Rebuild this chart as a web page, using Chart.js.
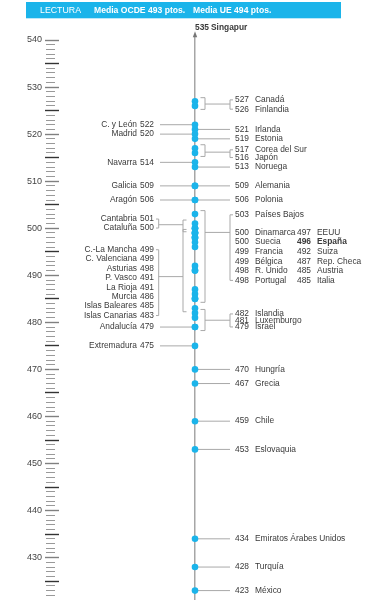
<!DOCTYPE html>
<html>
<head>
<meta charset="utf-8">
<script src="https://cdn.jsdelivr.net/npm/chart.js@4.4.1/dist/chart.umd.min.js"></script>
<style>
  html, body { margin: 0; padding: 0; background: #fff; }
  canvas { display: block; }
</style>
</head>
<body>
<canvas id="lecturaChart" width="376" height="600"></canvas>
<script>
// PISA lectura: países (derecha) y comunidades autónomas (izquierda)
const headerTexts = ['LECTURA', 'Media OCDE 493 ptos.', 'Media UE 494 ptos.'];

const countryNames = ['Singapur', 'Canadá', 'Finlandia', 'Irlanda', 'Estonia', 'Corea del Sur', 'Japón',
  'Noruega', 'Alemania', 'Polonia', 'Países Bajos', 'Dinamarca', 'Suecia', 'Francia', 'Bélgica',
  'R. Unido', 'Portugal', 'EEUU', 'España', 'Suiza', 'Rep. Checa', 'Austria', 'Italia', 'Islandia',
  'Luxemburgo', 'Israel', 'Hungría', 'Grecia', 'Chile', 'Eslovaquia', 'Emiratos Árabes Unidos',
  'Turquía', 'México'];
const countryScores = [535, 527, 526, 521, 519, 517, 516, 513, 509, 506, 503, 500, 500, 499, 499,
  498, 498, 497, 496, 492, 487, 485, 485, 482, 481, 479, 470, 467, 459, 453, 434, 428, 423];

const regionNames = ['C. y León', 'Madrid', 'Navarra', 'Galicia', 'Aragón', 'Cantabria', 'Cataluña',
  'C.-La Mancha', 'C. Valenciana', 'Asturias', 'P. Vasco', 'La Rioja', 'Murcia', 'Islas Baleares',
  'Islas Canarias', 'Andalucía', 'Extremadura'];
const regionScores = [522, 520, 514, 509, 506, 501, 500, 499, 499, 498, 491, 491, 486, 485, 483, 479, 475];

const axisLabels = [540, 530, 520, 510, 500, 490, 480, 470, 460, 450, 440, 430];
const offScaleCountry = 'Singapur';
const boldCountry = 'España';

const scoreMin = 421;
const scoreMax = 541;

// labels that share a bracket (layout only)
const rightGroups = [
  { names: ['Canadá', 'Finlandia'], shift: -1.3, step: 9.3 },
  { names: ['Corea del Sur', 'Japón'], shift: 1.6, step: 7.7 },
  { names: ['Países Bajos', 'Dinamarca', 'Suecia', 'Francia', 'Bélgica', 'R. Unido', 'Portugal'],
    second: ['EEUU', 'España', 'Suiza', 'Rep. Checa', 'Austria', 'Italia'],
    shift: 0.7, step: 9.6, gap: 8, connectRow: 1 },
  { names: ['Islandia', 'Luxemburgo', 'Israel'], shift: 1, step: 6.5 }
];
const leftGroups = [
  { names: ['Cantabria', 'Cataluña'], shift: -4.5, step: 9 },
  { names: ['C.-La Mancha', 'C. Valenciana', 'Asturias', 'P. Vasco', 'La Rioja', 'Murcia',
    'Islas Baleares', 'Islas Canarias'], shift: 16.8, step: 9.4 }
];

const blue = '#1bb4ea';
const lineGray = '#a9a9a9';
const textColor = '#3a3a3a';
const fontFamily = '"Liberation Sans", Arial, Helvetica, sans-serif';

const dotPoints = [];
countryNames.forEach((n, i) => {
  if (n !== offScaleCountry) dotPoints.push({ x: 0, y: countryScores[i] });
});
regionScores.forEach(v => dotPoints.push({ x: 0, y: v }));

function scoreOf(names, scores, name) {
  return scores[names.indexOf(name)];
}

// works out text rows, brackets and single connectors for one side
function layoutSide(names, scores, groups, yScale) {
  const grouped = new Set();
  const rows = [], brackets = [], singles = [];
  groups.forEach(g => {
    const first = yScale.getPixelForValue(scoreOf(names, scores, g.names[0]));
    const rowY = k => first + g.shift + k * g.step + (k > 0 ? (g.gap || 0) : 0);
    g.names.forEach((n, k) => {
      rows.push({ name: n, score: scoreOf(names, scores, n), ty: rowY(k), col: 0 });
      grouped.add(n);
    });
    (g.second || []).forEach((n, k) => {
      rows.push({ name: n, score: scoreOf(names, scores, n), ty: rowY(k + 1), col: 1 });
      grouped.add(n);
    });
    const dys = g.names.concat(g.second || []).map(n => yScale.getPixelForValue(scoreOf(names, scores, n)));
    const dotTop = Math.min(...dys) - 3.5;
    const dotBot = Math.max(...dys) + 3.5;
    const textTop = rowY(0);
    const textBot = rowY(g.names.length - 1);
    const connY = g.connectRow != null ? rowY(g.connectRow)
      : ((dotTop + dotBot) / 2 + (textTop + textBot) / 2) / 2;
    brackets.push({ dotTop, dotBot, textTop, textBot, connY });
  });
  names.forEach((n, i) => {
    if (grouped.has(n) || n === offScaleCountry) return;
    const dy = yScale.getPixelForValue(scores[i]);
    rows.push({ name: n, score: scores[i], ty: dy, col: 0 });
    singles.push(dy);
  });
  return { rows, brackets, singles };
}

const sideGeom = {
  right: { line: 35, dotIn: 5.5, dotOut: 10, txtIn: 38, txtOut: 35 },
  left: { line: -35, dotIn: -8.5, dotOut: -12, txtIn: -39, txtOut: -36.3 }
};

function drawSideLines(ctx, xs, lay, g) {
  const px = v => xs.getPixelForValue(v);
  ctx.beginPath();
  lay.singles.forEach(dy => {
    ctx.moveTo(px(0), dy);
    ctx.lineTo(px(g.line), dy);
  });
  lay.brackets.forEach(b => {
    ctx.moveTo(px(g.dotIn), b.dotTop);
    ctx.lineTo(px(g.dotOut), b.dotTop);
    ctx.lineTo(px(g.dotOut), b.dotBot);
    ctx.lineTo(px(g.dotIn), b.dotBot);
    ctx.moveTo(px(g.dotOut), b.connY);
    ctx.lineTo(px(g.txtOut), b.connY);
    ctx.moveTo(px(g.txtIn), b.textTop);
    ctx.lineTo(px(g.txtOut), b.textTop);
    ctx.lineTo(px(g.txtOut), b.textBot);
    ctx.lineTo(px(g.txtIn), b.textBot);
  });
  ctx.stroke();
}

const labelPlugin = {
  id: 'labelPlugin',
  beforeDatasetsDraw(chart) {
    const { ctx, scales: { x, y } } = chart;
    ctx.save();
    ctx.strokeStyle = lineGray;
    ctx.lineWidth = 1;
    drawSideLines(ctx, x, layoutSide(countryNames, countryScores, rightGroups, y), sideGeom.right);
    drawSideLines(ctx, x, layoutSide(regionNames, regionScores, leftGroups, y), sideGeom.left);
    ctx.restore();
  },
  afterDraw(chart) {
    const { ctx, scales: { x, y } } = chart;
    const px = v => x.getPixelForValue(v);
    ctx.save();
    ctx.textBaseline = 'middle';
    ctx.fillStyle = textColor;

    // countries
    layoutSide(countryNames, countryScores, rightGroups, y).rows.forEach(r => {
      ctx.font = (r.name === boldCountry ? 'bold ' : '') + '8.4px ' + fontFamily;
      ctx.textAlign = 'left';
      ctx.fillText(String(r.score), px(r.col ? 102 : 40), r.ty);
      ctx.fillText(r.name, px(r.col ? 122 : 60), r.ty);
    });
    // regions
    ctx.font = '8.4px ' + fontFamily;
    layoutSide(regionNames, regionScores, leftGroups, y).rows.forEach(r => {
      ctx.textAlign = 'right';
      ctx.fillText(String(r.score), px(-41), r.ty);
      ctx.fillText(r.name, px(-58), r.ty);
    });

    // country above the top of the scale
    const topY = chart.chartArea.top;
    ctx.font = 'bold 8.4px ' + fontFamily;
    ctx.textAlign = 'left';
    ctx.fillText(String(scoreOf(countryNames, countryScores, offScaleCountry)), px(0), topY - 7.5);
    ctx.fillText(offScaleCountry, px(16), topY - 7.5);
    ctx.fillStyle = '#777';
    ctx.beginPath();
    ctx.moveTo(px(0), topY - 4);
    ctx.lineTo(px(0) - 2.2, topY + 2);
    ctx.lineTo(px(0) + 2.2, topY + 2);
    ctx.closePath();
    ctx.fill();

    // header band
    ctx.fillStyle = blue;
    ctx.fillRect(26, 2, 315, 16.3);
    ctx.fillStyle = '#fff';
    ctx.textAlign = 'left';
    ctx.font = '8.8px ' + fontFamily;
    ctx.fillText(headerTexts[0], 40, 10.5);
    ctx.font = 'bold 8.6px ' + fontFamily;
    ctx.fillText(headerTexts[1], 94, 10.5);
    ctx.fillText(headerTexts[2], 193, 10.5);
    ctx.restore();
  }
};

new Chart('lecturaChart', {
  type: 'scatter',
  data: {
    datasets: [{
      data: dotPoints,
      yAxisID: 'y',
      pointRadius: 3.3,
      pointHoverRadius: 3.3,
      backgroundColor: blue,
      borderWidth: 0
    }]
  },
  options: {
    responsive: false,
    animation: false,
    devicePixelRatio: 1,
    layout: { autoPadding: false, padding: { top: 35.3, left: 19, right: 0, bottom: 0 } },
    plugins: { legend: { display: false }, tooltip: { enabled: false } },
    scales: {
      x: { type: 'linear', min: -136, max: 181, display: false },
      y: {
        type: 'linear',
        position: 'left',
        min: scoreMin,
        max: scoreMax,
        afterFit: (s) => {
          // fixed ruler width, and no extra room for half labels at the ends
          s.width = 40;
          s.paddingTop = 0;
          s.paddingBottom = 0;
        },
        border: { display: false },
        grid: {
          drawOnChartArea: false,
          drawTicks: true,
          tickLength: 14,
          tickColor: (c) => {
            const v = c.tick && c.tick.value;
            if (v > 540) return 'rgba(0,0,0,0)';
            if (v % 10 === 0) return '#808080';
            if (v % 5 === 0) return '#333';
            return '#999';
          },
          tickWidth: (c) => (c.tick && c.tick.value % 5 === 0 ? 1.4 : 1),
          tickBorderDash: (c) => (c.tick && c.tick.value % 5 === 0 ? [] : [0, 1, 9, 60])
        },
        ticks: {
          stepSize: 1,
          autoSkip: false,
          padding: 3,
          color: '#444',
          font: { family: fontFamily, size: 9 },
          callback: (v) => (axisLabels.includes(v) ? String(v) : '')
        }
      },
      yc: {
        type: 'linear',
        axis: 'y',
        position: { x: 0 },
        min: scoreMin,
        max: scoreMax,
        grid: { display: false },
        ticks: { display: false },
        border: { display: true, color: '#a6a6a6', width: 1.5 }
      }
    }
  },
  plugins: [labelPlugin]
});
</script>
</body>
</html>
